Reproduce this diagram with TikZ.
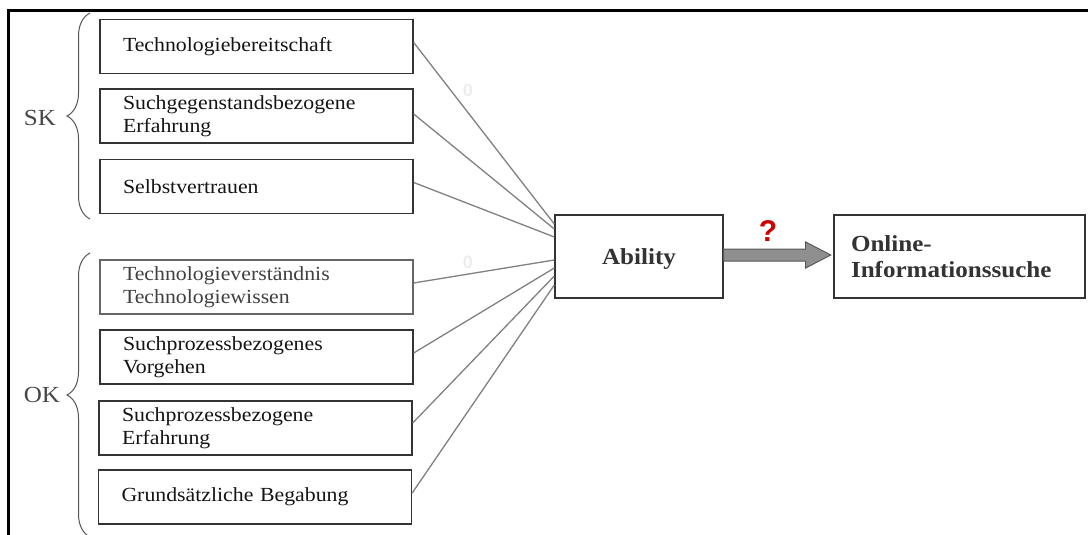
\documentclass[tikz,border=0pt]{standalone}
\usepackage{fontspec}
\setmainfont{Liberation Serif}[FakeStretch=1.09]
\newfontfamily\qfont{Liberation Sans}
\usetikzlibrary{calc,decorations.pathreplacing}
\definecolor{boxline}{HTML}{333333}
\definecolor{linegray}{HTML}{808080}
\definecolor{bracegray}{HTML}{555555}
\definecolor{arrfill}{HTML}{8F8F8F}
\definecolor{qred}{HTML}{CC0000}
\begin{document}
\begin{tikzpicture}[x=1pt,y=-1pt,
  item/.style={draw=boxline, line width=1.4pt, rectangle, minimum width=313pt, minimum height=54pt,
    inner sep=0pt, text width=267pt, align=left, font=\fontsize{20}{23}\selectfont, text=black!92},
  big/.style={draw=boxline, line width=1.4pt, rectangle, minimum height=83pt, inner sep=0pt,
    font=\fontsize{23}{26}\selectfont\bfseries, text=black!80},
  conn/.style={draw=linegray, line width=1.3pt},
  brc/.style={draw=bracegray, line width=1pt, decorate, decoration={brace, amplitude=23pt}},
  grp/.style={font=\fontsize{23}{23}\selectfont, text=black!72, inner sep=0pt},
  zero/.style={font=\qfont\bfseries\fontsize{18}{18}\selectfont, text=black!7, inner sep=0pt}
]
\useasboundingbox (0,0) rectangle (1088,535);
% frame
\draw[line width=2.3pt, black] (8.5,540) -- (8.5,10.5) -- (1095,10.5);
% group braces and labels
\draw[brc] (90,219) -- (90,13);
\draw[brc] (90,537) -- (90,253);
\node[grp] (sk) at (40,118) {SK};
\node[grp] (ok) at (42,395) {OK};
% factor boxes
\node[item] (b1) at (256.5,46.5) {Technologiebereitschaft};
\node[item] (b2) at (256.5,116) {Suchgegenstandsbezogene\\Erfahrung};
\node[item] (b3) at (256.5,186.5) {Selbstvertrauen};
\node[item, draw=black!60, line width=1.1pt, text=black!75] (b4) at (256.5,287) {Technologieverständnis\\Technologiewissen};
\node[item] (b5) at (256.5,357) {Suchprozessbezogenes\\Vorgehen};
\node[item] (b6) at (255.5,428) {Suchprozessbezogene\\Erfahrung};
\node[item] (b7) at (255,497) {Grundsätzliche Begabung};
% central boxes
\node[big, minimum width=168pt, text height=15pt, text depth=0pt] (ab) at (639,256.5) {Ability};
\node[big, minimum width=251pt, text width=217pt, align=left] (on) at (959.5,256.5) {Online-\\Informationssuche};
% connectors
\draw[conn] ($(b1.east)+(0,-4)$) -- ($(ab.west)+(0,-32.5)$);
\draw[conn] ($(b2.east)+(0,-2)$) -- ($(ab.west)+(0,-27.5)$);
\draw[conn] ($(b3.east)+(0,-4)$) -- ($(ab.west)+(0,-19.5)$);
\draw[conn] ($(b4.east)+(0,-4)$) -- ($(ab.west)+(0,3.5)$);
\draw[conn] ($(b5.east)+(0,-4)$) -- ($(ab.west)+(0,11.5)$);
\draw[conn] ($(b6.east)+(0,-5)$) -- ($(ab.west)+(0,19.5)$);
\draw[conn] ($(b7.east)+(0,-4)$) -- ($(ab.west)+(0,28.5)$);
% faint labels
\node[zero] (z1) at (468,90) {0};
\node[zero] (z2) at (468,262) {0};
% block arrow
\coordinate (as) at ($(ab.east)+(0,-1.5)$);
\filldraw[fill=arrfill, draw=black!65, line width=1pt]
  ($(as)+(0,-6)$) -- ($(as)+(82,-6)$) -- ($(as)+(82,-13)$) -- ($(as)+(107,0)$)
  -- ($(as)+(82,13)$) -- ($(as)+(82,6)$) -- ($(as)+(0,6)$) -- cycle;
\node[font=\qfont\bfseries\fontsize{30}{30}\selectfont, text=qred, inner sep=0pt] (q) at (768,231) {?};
\end{tikzpicture}
\end{document}
